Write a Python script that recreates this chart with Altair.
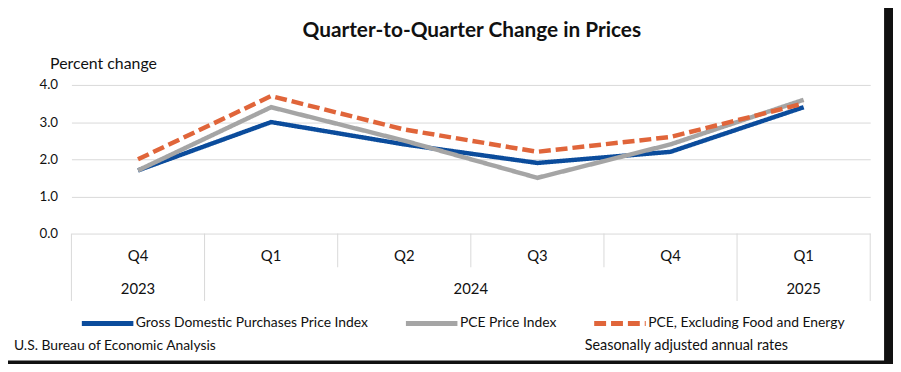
import altair as alt
import pandas as pd

# ---- data ----
quarters = ["Q4", "Q1", "Q2", "Q3", "Q4", "Q1"]
quarter_years = ["2023", "2024", "2024", "2024", "2024", "2025"]
series_names = [
    "Gross Domestic Purchases Price Index",
    "PCE Price Index",
    "PCE, Excluding Food and Energy",
]
gdp_purchases = [1.7, 3.0, 2.4, 1.9, 2.2, 3.4]
pce_index = [1.7, 3.4, 2.5, 1.5, 2.4, 3.6]
pce_core = [2.0, 3.7, 2.8, 2.2, 2.6, 3.5]
y_ticks = [0, 1, 2, 3, 4]
title_text = "Quarter-to-Quarter Change in Prices"
y_title = "Percent change"
source_note = "U.S. Bureau of Economic Analysis"
rate_note = "Seasonally adjusted annual rates"

# ---- styles ----
FONT = "Lato"
colors = ["#0B4C9C", "#A5A5A5", "#E0653A"]
dashes = [[1, 0], [1, 0], [12, 5]]
GRID = "#D9D9D9"
TXT = "#111111"
FRAME = "#111111"

# ---- tables built from the arrays ----
rows = []
for name, vals in zip(series_names, [gdp_purchases, pce_index, pce_core]):
    for i, v in enumerate(vals):
        rows.append({"series": name, "pos": i + 0.5, "value": v})
lines_df = pd.DataFrame(rows)

q_df = pd.DataFrame({"quarter": quarters, "pos": [i + 0.5 for i in range(len(quarters))]})

groups = []
start = 0
for i in range(1, len(quarter_years) + 1):
    if i == len(quarter_years) or quarter_years[i] != quarter_years[start]:
        groups.append({"year": quarter_years[start], "start": start, "end": i})
        start = i
year_df = pd.DataFrame(groups)
year_df["pos"] = (year_df["start"] + year_df["end"]) / 2

full_b = sorted({0, len(quarters)} | {g["start"] for g in groups})
short_b = [b for b in range(len(quarters) + 1) if b not in full_b]
full_df = pd.DataFrame({"b": full_b})
short_df = pd.DataFrame({"b": short_b})

xscale = alt.Scale(domain=[0, len(quarters)], nice=False, zero=False)
yscale = alt.Scale(domain=[0, 4], nice=False)

W, H = 806, 150
one = pd.DataFrame({"k": [0]})

# dark frame on the right and bottom edges (outside the white card)
frame_r = alt.Chart(one).mark_rect(color=FRAME).encode(
    x=alt.value(820), x2=alt.value(830), y=alt.value(-80), y2=alt.value(290)
)
frame_b = alt.Chart(one).mark_rect(color=FRAME).encode(
    x=alt.value(-70), x2=alt.value(830), y=alt.value(278), y2=alt.value(290)
)

sep_full = alt.Chart(full_df).mark_rule(color=GRID, strokeWidth=1).encode(
    x=alt.X("b:Q", scale=xscale, axis=None), y=alt.value(H), y2=alt.value(218)
)
sep_short = alt.Chart(short_df).mark_rule(color=GRID, strokeWidth=1).encode(
    x=alt.X("b:Q", scale=xscale, axis=None), y=alt.value(H), y2=alt.value(184)
)

q_text = alt.Chart(q_df).mark_text(fontSize=15, color=TXT, baseline="middle").encode(
    x=alt.X("pos:Q", scale=xscale, axis=None), y=alt.value(173), text="quarter:N"
)
y_text = alt.Chart(year_df).mark_text(fontSize=15, color=TXT, baseline="middle").encode(
    x=alt.X("pos:Q", scale=xscale, axis=None), y=alt.value(206), text="year:N"
)

legend = alt.Legend(
    orient="none", legendX=8, legendY=212, direction="horizontal", columns=3,
    title=None, symbolType="stroke", symbolSize=2704, symbolStrokeWidth=5,
    labelFontSize=14, labelColor=TXT, labelFont=FONT, labelLimit=500,
    columnPadding=27, labelOffset=0, padding=0,
)

lines = alt.Chart(lines_df).mark_line(strokeWidth=4.5).encode(
    x=alt.X("pos:Q", scale=xscale, axis=None),
    y=alt.Y(
        "value:Q", scale=yscale,
        axis=alt.Axis(
            values=y_ticks, format=".1f", grid=True, gridColor=GRID, domain=False,
            ticks=False, labelFontSize=13.5, labelPadding=14, labelColor=TXT,
            title=y_title, titleAngle=0, titleX=-22, titleY=-22, titleAlign="left",
            titleBaseline="middle", titleFontSize=16, titleFontWeight="normal",
            titleColor=TXT,
        ),
    ),
    color=alt.Color("series:N", scale=alt.Scale(domain=series_names, range=colors), legend=legend),
    strokeDash=alt.StrokeDash("series:N", scale=alt.Scale(domain=series_names, range=dashes), legend=legend),
    order=alt.Order("pos:Q"),
)

title = alt.Chart(pd.DataFrame({"t": [title_text]})).mark_text(
    fontSize=21, fontWeight="bold", color=TXT, align="center", baseline="middle"
).encode(x=alt.value(W / 2 + 1), y=alt.value(-54), text="t:N")

notes_l = alt.Chart(pd.DataFrame({"t": [source_note]})).mark_text(
    fontSize=14, color=TXT, align="left", baseline="middle"
).encode(x=alt.value(-58), y=alt.value(263), text="t:N")
notes_r = alt.Chart(pd.DataFrame({"t": [rate_note]})).mark_text(
    fontSize=14.5, color=TXT, align="left", baseline="middle"
).encode(x=alt.value(518), y=alt.value(263), text="t:N")

chart = alt.layer(
    sep_full, sep_short, q_text, y_text, lines, title, notes_l, notes_r, frame_r, frame_b
).properties(
    width=W, height=H,
    padding={"left": 64, "top": 76, "right": 23, "bottom": 130},
    autosize=alt.AutoSizeParams(type="none"),
).configure(
    font=FONT, background="white"
).configure_view(stroke=None)

chart.save("out.html", embed_options={"renderer": "svg", "actions": False})
